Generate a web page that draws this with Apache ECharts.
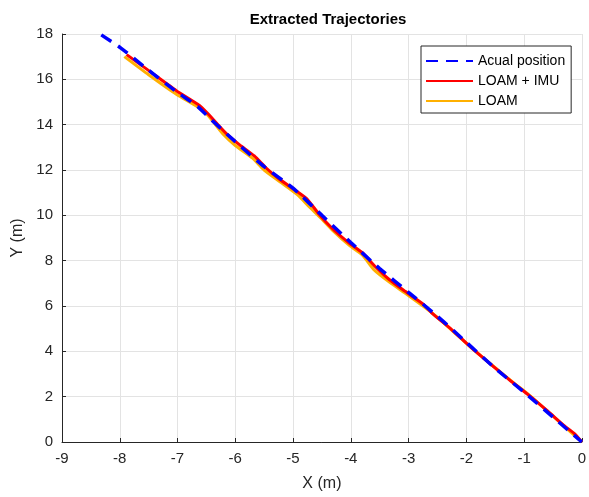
<!DOCTYPE html>
<html>
<head>
<meta charset="utf-8">
<script src="https://cdn.jsdelivr.net/npm/echarts@6/dist/echarts.min.js"></script>
<style>
  html, body { margin: 0; padding: 0; background: #fff; }
  #chart { width: 589px; height: 497px; }
</style>
</head>
<body>
<div id="chart"></div>
<script>
// trajectory points [x, y] in metres
const actualPos = [
  [-8.32, 17.96], [-7.98, 17.38], [-7.5, 16.4], [-7, 15.42], [-6.65, 14.8],
  [-6.45, 14.3], [-6, 13.25], [-5.5, 12.15], [-5, 11.2],
  [-4.5, 10.0], [-4, 8.8], [-3.5, 7.65], [-3, 6.6], [-2.5, 5.55],
  [-2, 4.4], [-1.5, 3.25], [-1, 2.2], [-0.5, 1.1], [0, 0]
];
const loamImu = [
  [-7.88, 17.09], [-7.48, 16.35], [-7.02, 15.5], [-6.62, 14.85], [-6.48, 14.5],
  [-6.3, 14.0], [-6.16, 13.62], [-5.93, 13.12], [-5.67, 12.62], [-5.47, 12.1],
  [-5.24, 11.6], [-4.9, 11.0], [-4.75, 10.7], [-4.55, 10.05], [-4.32, 9.42],
  [-4.03, 8.78], [-3.8, 8.35], [-3.57, 7.72], [-3.34, 7.18], [-3.06, 6.65],
  [-2.74, 6.07], [-2.6, 5.7], [-2.25, 4.95], [-1.91, 4.15], [-1.56, 3.39],
  [-1.22, 2.67], [-0.93, 2.09], [-0.59, 1.36], [-0.3, 0.71], [-0.12, 0.35], [0, 0]
];
const loamOnly = [
  [-7.92, 17.0], [-7.5, 16.2], [-7.02, 15.34], [-6.62, 14.74], [-6.47, 14.4],
  [-6.2, 13.55], [-6.0, 13.08], [-5.7, 12.52], [-5.5, 12.0], [-5.22, 11.47],
  [-4.92, 10.9], [-4.72, 10.38], [-4.52, 9.88], [-4.3, 9.3], [-4.02, 8.66],
  [-3.8, 8.25], [-3.6, 7.6], [-3.32, 7.03], [-3.02, 6.5], [-2.72, 5.94],
  [-2.5, 5.5], [-2.22, 4.86], [-1.9, 4.13], [-1.52, 3.32], [-1.2, 2.65],
  [-0.9, 2.05], [-0.58, 1.33], [-0.3, 0.68], [0, 0]
];
const seriesNames = ['Acual position', 'LOAM + IMU', 'LOAM'];

const font = '"Liberation Sans", Arial, sans-serif';
const ink = '#262626';

const chart = echarts.init(document.getElementById('chart'));

chart.setOption({
  backgroundColor: '#fff',
  animation: false,
  title: {
    text: 'Extracted Trajectories',
    left: 323,
    textAlign: 'center',
    top: 7,
    textStyle: { fontFamily: font, fontSize: 15, fontWeight: 'bold', color: '#000' }
  },
  legend: {
    data: seriesNames,
    orient: 'vertical',
    left: 421,
    top: 46,
    padding: [8, 6, 5, 4],
    itemWidth: 47,
    itemHeight: 10,
    itemGap: 6,
    itemStyle: { opacity: 0 },
    backgroundColor: '#fff',
    borderColor: ink,
    borderWidth: 1,
    borderRadius: 0,
    textStyle: { fontFamily: font, fontSize: 14, color: '#000', padding: [0, 0, 0, 0] }
  },
  grid: { left: 62, right: 5, top: 34, bottom: 49, containLabel: false },
  xAxis: {
    type: 'value',
    min: -9, max: 0, interval: 1,
    name: 'X (m)',
    nameLocation: 'middle',
    nameGap: 34,
    nameTextStyle: { fontFamily: font, fontSize: 16, color: ink },
    axisLine: { show: true, onZero: false, lineStyle: { color: ink, width: 1 } },
    axisTick: { show: true, inside: true, length: 4, lineStyle: { color: ink } },
    axisLabel: { fontFamily: font, fontSize: 15, color: ink, margin: 9 },
    splitLine: { show: true, lineStyle: { color: '#e3e3e3', width: 1 } }
  },
  yAxis: {
    type: 'value',
    min: 0, max: 18, interval: 2,
    name: 'Y (m)',
    nameLocation: 'middle',
    nameGap: 31,
    nameTextStyle: { fontFamily: font, fontSize: 16, color: ink },
    axisLine: { show: true, onZero: false, lineStyle: { color: ink, width: 1 } },
    axisTick: { show: true, inside: true, length: 4, lineStyle: { color: ink } },
    axisLabel: { fontFamily: font, fontSize: 15, color: ink, margin: 9 },
    splitLine: { show: true, lineStyle: { color: '#e3e3e3', width: 1 } }
  },
  series: [
    {
      name: 'LOAM',
      type: 'line',
      data: loamOnly,
      smooth: 0.2,
      showSymbol: false,
      symbol: 'none',
      lineStyle: { color: '#ffb000', width: 3 },
      itemStyle: { color: '#ffb000' }
    },
    {
      name: 'LOAM + IMU',
      type: 'line',
      data: loamImu,
      smooth: 0.2,
      showSymbol: false,
      symbol: 'none',
      lineStyle: { color: '#ff0000', width: 3 },
      itemStyle: { color: '#ff0000' }
    },
    {
      name: 'Acual position',
      type: 'line',
      data: actualPos,
      smooth: 0.2,
      showSymbol: false,
      symbol: 'none',
      lineStyle: { color: '#0000ff', width: 3.5, type: [12, 8] },
      itemStyle: { color: '#0000ff' }
    }
  ]
});
</script>
</body>
</html>
